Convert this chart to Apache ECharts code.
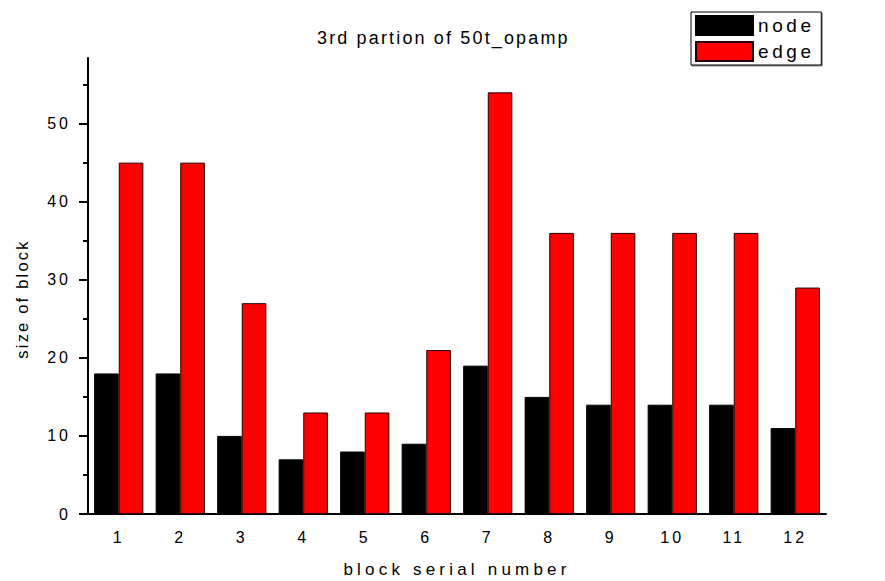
<!DOCTYPE html>
<html>
<head>
<meta charset="utf-8">
<script src="https://cdn.jsdelivr.net/npm/echarts@6/dist/echarts.min.js"></script>
<style>
  html, body { margin: 0; padding: 0; background: #fff; }
  #chart { width: 885px; height: 581px; }
  /* widen the lettering per text role (each role uses its own font size) */
  #chart text[style*="16px"]   { letter-spacing: 3px; }
  #chart text[style*="16.5px"] { letter-spacing: 2.2px; }
  #chart text[style*="17px"]   { letter-spacing: 4.2px; }
  #chart text[style*="18px"]   { letter-spacing: 2.15px; }
  #chart text[style*="19px"]   { letter-spacing: 3.6px; }
</style>
</head>
<body>
<div id="chart"></div>
<script>
// block serial numbers and block sizes
const categories = ['1', '2', '3', '4', '5', '6', '7', '8', '9', '10', '11', '12'];
const nodeSizes = [18, 18, 10, 7, 8, 9, 19, 15, 14, 14, 14, 11];
const edgeSizes = [45, 45, 27, 13, 13, 21, 54, 36, 36, 36, 36, 29];
const yMajorTicks = [0, 10, 20, 30, 40, 50];
const yMinorTicks = [5, 15, 25, 35, 45, 55];

const FONT = 'Liberation Sans';
const yMax = 58.4;

const chart = echarts.init(document.getElementById('chart'), null, { renderer: 'svg' });

chart.setOption({
  animation: false,
  backgroundColor: '#fff',
  title: {
    text: '3rd partion of 50t_opamp',
    left: 317,
    top: 29,
    padding: 0,
    textStyle: { fontFamily: FONT, fontSize: 18, fontWeight: 'normal', color: '#000' }
  },
  legend: {
    data: ['node', 'edge'],
    orient: 'vertical',
    left: 691,
    top: 12,
    padding: [3, 21, 3, 4],
    itemWidth: 57,
    itemHeight: 19,
    itemGap: 5,
    icon: 'rect',
    backgroundColor: '#fff',
    borderColor: '#000',
    borderWidth: 1,
    shadowColor: 'rgba(0,0,0,0.45)',
    shadowOffsetX: 1,
    shadowOffsetY: 1,
    shadowBlur: 0,
    textStyle: { fontFamily: FONT, fontSize: 19, lineHeight: 19, color: '#000' }
  },
  grid: { left: 88, right: 59, top: 58, bottom: 67, containLabel: false, outerBoundsMode: 'none' },
  xAxis: [
    {
      type: 'category',
      data: categories,
      boundaryGap: true,
      name: 'block serial number',
      nameLocation: 'middle',
      nameGap: 47,
      nameTextStyle: { fontFamily: FONT, fontSize: 17, color: '#000' },
      axisLine: { lineStyle: { color: '#000', width: 2 } },
      axisTick: { alignWithLabel: true, interval: 0, length: 6, lineStyle: { color: '#000', width: 2 } },
      axisLabel: { interval: 0, margin: 15, fontFamily: FONT, fontSize: 16, color: '#000' },
      splitLine: { show: false }
    },
    {
      type: 'category',
      data: categories,
      boundaryGap: true,
      position: 'bottom',
      axisLine: { show: false },
      axisTick: { interval: 0, length: 4, lineStyle: { color: '#000', width: 2 } },
      axisLabel: { show: false },
      splitLine: { show: false }
    }
  ],
  yAxis: [
    {
      type: 'value',
      min: 0,
      max: yMax,
      interval: 10,
      name: 'size of block',
      nameLocation: 'middle',
      nameGap: 58,
      nameTextStyle: { fontFamily: FONT, fontSize: 16.5, color: '#000', padding: [0, 26, 0, 0] },
      axisLine: { show: true, lineStyle: { color: '#000', width: 2 } },
      axisTick: { show: true, customValues: yMajorTicks, length: 9, lineStyle: { color: '#000', width: 2 } },
      axisLabel: { customValues: yMajorTicks, margin: 17, fontFamily: FONT, fontSize: 16, color: '#000' },
      splitLine: { show: false }
    },
    {
      type: 'value',
      min: 0,
      max: yMax,
      position: 'left',
      axisLine: { show: false },
      axisTick: { show: true, customValues: yMinorTicks, length: 5, lineStyle: { color: '#000', width: 2 } },
      axisLabel: { show: false },
      splitLine: { show: false }
    }
  ],
  series: [
    {
      name: 'node',
      type: 'bar',
      data: nodeSizes,
      barGap: '0%',
      barCategoryGap: '20%',
      itemStyle: { color: '#000', borderColor: '#000', borderWidth: 1 }
    },
    {
      name: 'edge',
      type: 'bar',
      data: edgeSizes,
      barGap: '0%',
      barCategoryGap: '20%',
      itemStyle: { color: '#ff0000', borderColor: '#220000', borderWidth: 1 }
    }
  ]
});
</script>
</body>
</html>
